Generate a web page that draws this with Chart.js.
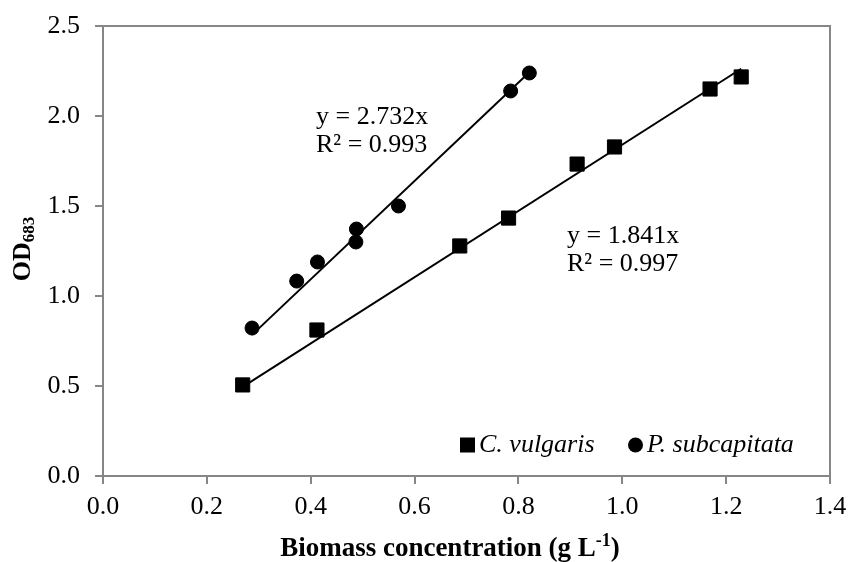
<!DOCTYPE html>
<html lang="en">
<head>
    <meta charset="UTF-8">
    <title>OD683 vs biomass</title>
    <script src="https://cdn.jsdelivr.net/npm/chart.js"></script>
    <style>
        html, body { margin: 0; padding: 0; background: #fff; }
        #wrap { width: 849px; height: 562px; }
    </style>
</head>
<body>
<div id="wrap"><canvas id="myChart"></canvas></div>
<script>
    // measured points
    const biomassCV = [0.269, 0.412, 0.687, 0.781, 0.913, 0.985, 1.169, 1.229];
    const odCV      = [0.506, 0.811, 1.278, 1.433, 1.733, 1.828, 2.150, 2.217];
    const biomassPS = [0.287, 0.373, 0.413, 0.487, 0.488, 0.569, 0.785, 0.821];
    const odPS      = [0.822, 1.083, 1.189, 1.300, 1.372, 1.500, 2.139, 2.239];

    // linear fits through origin
    const slopeCV = 1.841, r2CV = 0.997;
    const slopePS = 2.732, r2PS = 0.993;

    const seriesNames = ['C. vulgaris', 'P. subcapitata'];
    const xTicks = [0, 0.2, 0.4, 0.6, 0.8, 1.0, 1.2, 1.4];
    const yTicks = [0, 0.5, 1.0, 1.5, 2.0, 2.5];

    const AXIS = '#868686';
    const SERIF = '"Liberation Serif", "Times New Roman", serif';

    function pts(xs, ys) {
        return xs.map((x, i) => ({ x: x, y: ys[i] }));
    }
    function fitLine(xs, k) {
        const lo = Math.min(...xs), hi = Math.max(...xs);
        return [{ x: lo, y: k * lo }, { x: hi, y: k * hi }];
    }

    // frame, axis titles, legend and equations
    const decor = {
        id: 'decor',
        beforeDatasetsDraw(chart) {
            const { ctx, chartArea: a } = chart;
            ctx.save();
            ctx.strokeStyle = AXIS;
            ctx.lineWidth = 2;
            ctx.beginPath();
            ctx.moveTo(a.left, a.top);
            ctx.lineTo(a.right, a.top);
            ctx.lineTo(a.right, a.bottom);
            ctx.stroke();
            ctx.restore();
        },
        afterDraw(chart) {
            const { ctx } = chart;
            ctx.save();
            ctx.fillStyle = '#000';

            // y title: OD with subscript 683
            ctx.save();
            ctx.translate(23, 249);
            ctx.rotate(-Math.PI / 2);
            ctx.textBaseline = 'middle';
            ctx.textAlign = 'left';
            ctx.font = 'bold 26px ' + SERIF;
            const wOD = ctx.measureText('OD').width;
            ctx.font = 'bold 17px ' + SERIF;
            const wSub = ctx.measureText('683').width;
            let x0 = -(wOD + wSub) / 2;
            ctx.font = 'bold 26px ' + SERIF;
            ctx.fillText('OD', x0, 0);
            ctx.font = 'bold 17px ' + SERIF;
            ctx.fillText('683', x0 + wOD, 7);
            ctx.restore();

            // x title with superscript -1
            ctx.textBaseline = 'alphabetic';
            ctx.textAlign = 'left';
            const p1 = 'Biomass concentration (g L', sup = '-1', p2 = ')';
            ctx.font = 'bold 27px ' + SERIF;
            const w1 = ctx.measureText(p1).width, w3 = ctx.measureText(p2).width;
            ctx.font = 'bold 18px ' + SERIF;
            const w2 = ctx.measureText(sup).width;
            let tx = 450 - (w1 + w2 + w3) / 2;
            const base = 556;
            ctx.font = 'bold 27px ' + SERIF;
            ctx.fillText(p1, tx, base);
            ctx.font = 'bold 18px ' + SERIF;
            ctx.fillText(sup, tx + w1, base - 10);
            ctx.font = 'bold 27px ' + SERIF;
            ctx.fillText(p2, tx + w1 + w2, base);

            // equations
            ctx.font = '26px ' + SERIF;
            ctx.textBaseline = 'middle';
            const eqs = [
                { text: 'y = ' + slopePS.toFixed(3) + 'x', px: 316, py: 117 },
                { text: 'R\u00B2 = ' + r2PS.toFixed(3), px: 316, py: 145 },
                { text: 'y = ' + slopeCV.toFixed(3) + 'x', px: 567, py: 236 },
                { text: 'R\u00B2 = ' + r2CV.toFixed(3), px: 567, py: 264 }
            ];
            eqs.forEach(e => ctx.fillText(e.text, e.px, e.py));

            // legend inside the plot
            const ly = 445;
            const items = chart.data.datasets.filter(d => d.inLegend);
            const lx = [460, 628];
            items.forEach((d, i) => {
                ctx.beginPath();
                if (d.pointStyle === 'rect') {
                    ctx.rect(lx[i], ly - 7.5, 15, 15);
                } else {
                    ctx.arc(lx[i] + 7.5, ly, 7.5, 0, Math.PI * 2);
                }
                ctx.fill();
                ctx.font = 'italic 26px ' + SERIF;
                ctx.fillText(d.label, lx[i] + 19, ly);
            });
            ctx.restore();
        }
    };

    const ctx = document.querySelector('#myChart');
    const myChart = new Chart(ctx, {
        type: 'scatter',
        data: {
            datasets: [
                {
                    label: seriesNames[0],
                    inLegend: true,
                    data: pts(biomassCV, odCV),
                    pointStyle: 'rect',
                    pointRadius: 10,
                    backgroundColor: '#000',
                    borderColor: '#000',
                    borderWidth: 1,
                    order: 1
                },
                {
                    label: seriesNames[1],
                    inLegend: true,
                    data: pts(biomassPS, odPS),
                    pointStyle: 'circle',
                    pointRadius: 7,
                    backgroundColor: '#000',
                    borderColor: '#000',
                    borderWidth: 1,
                    order: 1
                },
                {
                    label: 'fit CV',
                    data: fitLine(biomassCV, slopeCV),
                    showLine: true,
                    pointRadius: 0,
                    borderColor: '#000',
                    borderWidth: 2,
                    order: 2
                },
                {
                    label: 'fit PS',
                    data: fitLine(biomassPS, slopePS),
                    showLine: true,
                    pointRadius: 0,
                    borderColor: '#000',
                    borderWidth: 2,
                    order: 2
                }
            ]
        },
        options: {
            responsive: true,
            maintainAspectRatio: false,
            animation: false,
            layout: { padding: { left: 0, top: 26, right: 19, bottom: 0 } },
            plugins: {
                legend: { display: false },
                tooltip: { enabled: false }
            },
            scales: {
                x: {
                    type: 'linear',
                    min: 0,
                    max: 1.4,
                    afterBuildTicks: s => { s.ticks = xTicks.map(v => ({ value: v })); },
                    // keep the vertical tick padding from widening the side margins
                    afterFit: s => { s.height = 86; s.paddingLeft = 17; s.paddingRight = 17; },
                    ticks: {
                        color: '#000',
                        font: { family: SERIF, size: 26 },
                        padding: 8,
                        maxRotation: 0,
                        callback: v => v.toFixed(1)
                    },
                    grid: { drawOnChartArea: false, drawTicks: true, tickLength: 8, color: AXIS, lineWidth: 2 },
                    border: { color: AXIS, width: 2 }
                },
                y: {
                    type: 'linear',
                    min: 0,
                    max: 2.5,
                    afterBuildTicks: s => { s.ticks = yTicks.map(v => ({ value: v })); },
                    // tick padding is horizontal only; don't let it push the top down
                    afterFit: s => { s.width = 103; s.paddingTop = 14; s.paddingBottom = 14; },
                    ticks: {
                        color: '#000',
                        font: { family: SERIF, size: 26 },
                        padding: 15,
                        callback: v => v.toFixed(1)
                    },
                    grid: { drawOnChartArea: false, drawTicks: true, tickLength: 8, color: AXIS, lineWidth: 2 },
                    border: { color: AXIS, width: 2 }
                }
            }
        },
        plugins: [decor]
    });
</script>
</body>
</html>
